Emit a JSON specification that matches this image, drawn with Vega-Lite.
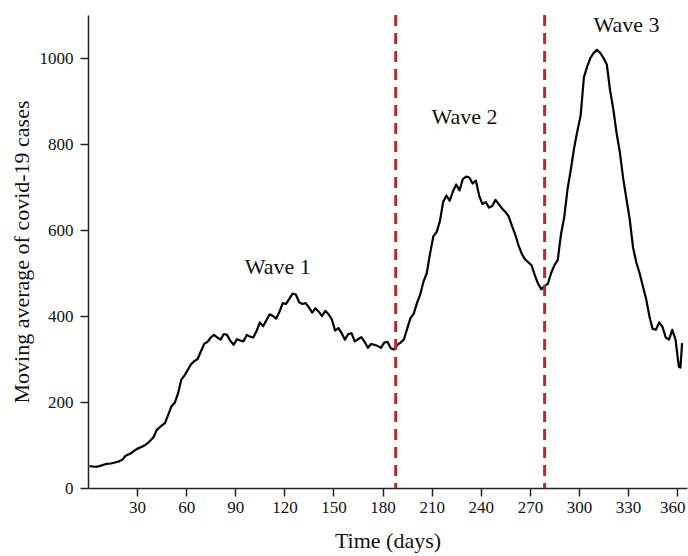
{
  "$schema": "https://vega.github.io/schema/vega-lite/v6.json",
  "width": 599,
  "height": 473,
  "autosize": {"type": "none"},
  "padding": {"left": 88, "top": 15, "right": 1, "bottom": 68},
  "background": "white",
  "config": {
    "view": {"stroke": null},
    "font": "Liberation Serif",
    "axis": {
      "grid": false,
      "domainColor": "#222",
      "domainWidth": 1.5,
      "tickColor": "#222",
      "tickWidth": 1.5,
      "tickSize": 8,
      "labelFont": "Liberation Serif",
      "labelFontSize": 17,
      "labelColor": "#111",
      "titleFont": "Liberation Serif",
      "titleFontSize": 22,
      "titleFontWeight": "normal",
      "titleColor": "#111"
    }
  },
  "layer": [
    {
      "data": {
        "values": [
          {"day": 1, "cases": 51}, {"day": 3, "cases": 50}, {"day": 5, "cases": 49}, {"day": 8, "cases": 52},
          {"day": 11, "cases": 56}, {"day": 14, "cases": 57}, {"day": 17, "cases": 60}, {"day": 19, "cases": 62},
          {"day": 21, "cases": 66}, {"day": 23, "cases": 75}, {"day": 26, "cases": 80}, {"day": 28, "cases": 86},
          {"day": 30, "cases": 91}, {"day": 33, "cases": 96}, {"day": 35, "cases": 100}, {"day": 37, "cases": 106},
          {"day": 40, "cases": 118}, {"day": 42, "cases": 135}, {"day": 45, "cases": 145}, {"day": 47, "cases": 151},
          {"day": 49, "cases": 170}, {"day": 51, "cases": 190}, {"day": 53, "cases": 198}, {"day": 55, "cases": 220},
          {"day": 57, "cases": 252}, {"day": 59, "cases": 262}, {"day": 61, "cases": 275}, {"day": 63, "cases": 288},
          {"day": 65, "cases": 295}, {"day": 67, "cases": 300}, {"day": 69, "cases": 318}, {"day": 71, "cases": 335},
          {"day": 73, "cases": 340}, {"day": 75, "cases": 350}, {"day": 77, "cases": 356}, {"day": 79, "cases": 350},
          {"day": 81, "cases": 345}, {"day": 83, "cases": 358}, {"day": 85, "cases": 356}, {"day": 87, "cases": 342},
          {"day": 89, "cases": 333}, {"day": 91, "cases": 346}, {"day": 93, "cases": 343}, {"day": 95, "cases": 341},
          {"day": 97, "cases": 356}, {"day": 99, "cases": 352}, {"day": 101, "cases": 350}, {"day": 103, "cases": 365},
          {"day": 105, "cases": 385}, {"day": 107, "cases": 376}, {"day": 109, "cases": 390}, {"day": 111, "cases": 404},
          {"day": 113, "cases": 400}, {"day": 115, "cases": 394}, {"day": 117, "cases": 410}, {"day": 119, "cases": 430},
          {"day": 121, "cases": 428}, {"day": 123, "cases": 440}, {"day": 125, "cases": 452}, {"day": 127, "cases": 450},
          {"day": 129, "cases": 432}, {"day": 131, "cases": 428}, {"day": 133, "cases": 430}, {"day": 135, "cases": 420},
          {"day": 137, "cases": 408}, {"day": 139, "cases": 418}, {"day": 141, "cases": 410}, {"day": 143, "cases": 400},
          {"day": 145, "cases": 412}, {"day": 147, "cases": 404}, {"day": 149, "cases": 392}, {"day": 151, "cases": 366},
          {"day": 153, "cases": 372}, {"day": 155, "cases": 360}, {"day": 157, "cases": 345}, {"day": 159, "cases": 358},
          {"day": 161, "cases": 360}, {"day": 163, "cases": 341}, {"day": 165, "cases": 346}, {"day": 167, "cases": 351},
          {"day": 169, "cases": 340}, {"day": 171, "cases": 326}, {"day": 173, "cases": 335}, {"day": 175, "cases": 333},
          {"day": 177, "cases": 330}, {"day": 179, "cases": 326}, {"day": 181, "cases": 338}, {"day": 183, "cases": 340},
          {"day": 185, "cases": 325}, {"day": 187, "cases": 322}, {"day": 189, "cases": 333}, {"day": 191, "cases": 338},
          {"day": 193, "cases": 345}, {"day": 195, "cases": 370}, {"day": 197, "cases": 395}, {"day": 199, "cases": 405},
          {"day": 201, "cases": 430}, {"day": 203, "cases": 450}, {"day": 205, "cases": 480}, {"day": 207, "cases": 500},
          {"day": 209, "cases": 545}, {"day": 211, "cases": 585}, {"day": 213, "cases": 595}, {"day": 215, "cases": 620},
          {"day": 217, "cases": 665}, {"day": 219, "cases": 680}, {"day": 221, "cases": 668}, {"day": 223, "cases": 690},
          {"day": 225, "cases": 706}, {"day": 227, "cases": 692}, {"day": 229, "cases": 718}, {"day": 231, "cases": 724},
          {"day": 233, "cases": 722}, {"day": 235, "cases": 708}, {"day": 237, "cases": 715}, {"day": 239, "cases": 680},
          {"day": 241, "cases": 660}, {"day": 243, "cases": 665}, {"day": 245, "cases": 652}, {"day": 247, "cases": 656},
          {"day": 249, "cases": 670}, {"day": 251, "cases": 660}, {"day": 253, "cases": 650}, {"day": 255, "cases": 642},
          {"day": 257, "cases": 632}, {"day": 259, "cases": 610}, {"day": 261, "cases": 590}, {"day": 263, "cases": 565},
          {"day": 265, "cases": 545}, {"day": 267, "cases": 532}, {"day": 269, "cases": 525}, {"day": 271, "cases": 518},
          {"day": 273, "cases": 495}, {"day": 275, "cases": 475}, {"day": 277, "cases": 462}, {"day": 279, "cases": 470},
          {"day": 281, "cases": 475}, {"day": 283, "cases": 500}, {"day": 285, "cases": 518}, {"day": 287, "cases": 530},
          {"day": 289, "cases": 590}, {"day": 291, "cases": 630}, {"day": 293, "cases": 695}, {"day": 295, "cases": 740},
          {"day": 297, "cases": 790}, {"day": 299, "cases": 830}, {"day": 301, "cases": 866}, {"day": 303, "cases": 955},
          {"day": 305, "cases": 980}, {"day": 307, "cases": 1000}, {"day": 309, "cases": 1012}, {"day": 311, "cases": 1019},
          {"day": 313, "cases": 1012}, {"day": 315, "cases": 1000}, {"day": 317, "cases": 985}, {"day": 319, "cases": 925},
          {"day": 321, "cases": 880}, {"day": 323, "cases": 825}, {"day": 325, "cases": 780}, {"day": 327, "cases": 720},
          {"day": 329, "cases": 672}, {"day": 331, "cases": 625}, {"day": 333, "cases": 560}, {"day": 335, "cases": 525},
          {"day": 337, "cases": 500}, {"day": 339, "cases": 470}, {"day": 341, "cases": 440}, {"day": 343, "cases": 400},
          {"day": 345, "cases": 370}, {"day": 347, "cases": 368}, {"day": 349, "cases": 385}, {"day": 351, "cases": 375},
          {"day": 353, "cases": 350}, {"day": 355, "cases": 345}, {"day": 357, "cases": 368}, {"day": 359, "cases": 345},
          {"day": 361, "cases": 282}, {"day": 362, "cases": 280}, {"day": 363, "cases": 337}
        ]
      },
      "mark": {"type": "line", "color": "black", "strokeWidth": 2.2, "strokeJoin": "round"},
      "encoding": {
        "x": {
          "field": "day", "type": "quantitative",
          "scale": {"domain": [0, 366], "nice": false, "zero": false},
          "axis": {
            "title": "Time (days)",
            "values": [30, 60, 90, 120, 150, 180, 210, 240, 270, 300, 330, 360],
            "format": "d",
            "labelPadding": 3,
            "titlePadding": 15,
            "labelOffset": {"condition": {"test": "datum.value == 360", "value": -5}, "value": 0}
          }
        },
        "y": {
          "field": "cases", "type": "quantitative",
          "scale": {"domain": [0, 1100], "nice": false},
          "axis": {"title": "Moving average of covid-19 cases", "values": [0, 200, 400, 600, 800, 1000], "format": "d", "labelPadding": 7, "titlePadding": 6}
        }
      }
    },
    {
      "data": {"values": [{"day": 188}, {"day": 279}]},
      "mark": {"type": "rule", "color": "#c0272d", "strokeWidth": 3, "strokeDash": [11, 7]},
      "encoding": {"x": {"field": "day", "type": "quantitative"}}
    },
    {
      "data": {
        "values": [
          {"day": 116, "cases": 513, "label": "Wave 1"},
          {"day": 230, "cases": 862, "label": "Wave 2"},
          {"day": 329, "cases": 1077, "label": "Wave 3"}
        ]
      },
      "mark": {"type": "text", "fontSize": 22, "font": "Liberation Serif", "color": "#111", "align": "center", "baseline": "middle"},
      "encoding": {
        "x": {"field": "day", "type": "quantitative"},
        "y": {"field": "cases", "type": "quantitative"},
        "text": {"field": "label"}
      }
    }
  ]
}
